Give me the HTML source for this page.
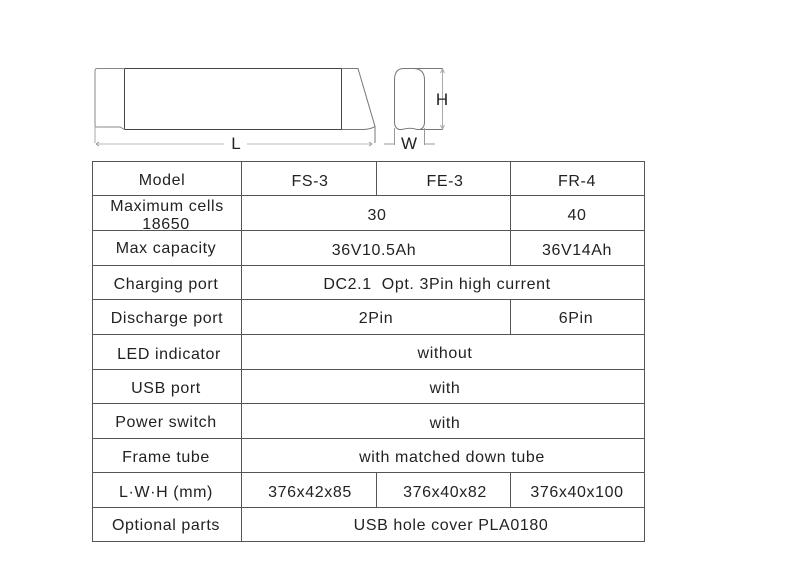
<!DOCTYPE html>
<html><head><meta charset="utf-8"><style>
html,body{margin:0;padding:0;background:#fff}
svg{display:block}
text{font-family:"Liberation Sans",sans-serif;font-size:16px;letter-spacing:.6px;fill:#222;text-anchor:middle}
</style></head><body>
<svg width="800" height="587" viewBox="0 0 800 587" xmlns="http://www.w3.org/2000/svg">
<g fill="none" stroke="#555" stroke-width="1">
<path d="M124.500 68.500H341.500M124.500 129.500H341.500M124.500 68.500V129.500M341.500 68.500V129.500" stroke="#444"/>
<path d="M124.500 68.500H97Q95 68.500 95 71V125.500Q95 127 97 127H120L124.500 129.500" stroke="#888"/>
<path d="M341.500 68.500H358L375 126.500V143M341.500 129.500H362Q370 129.500 375 126.500" stroke="#777"/>
<path d="M95 127V143" stroke="#aaa"/>
<path d="M96 144H224M247 144H372" stroke="#bbb"/>
<path d="M96 144l3 -2M96 144l3 2M372 144l-3 -2M372 144l-3 2" stroke="#999"/>
<path d="M403 68.500H414Q424.500 69 424.500 80V122Q424.500 128 420 129.500L417 129.500Q410 127 402 129.500L399 129.500Q394.500 128 394.500 122V80Q394.500 69 403 68.500Z" stroke="#777"/>
<path d="M414 68.500H442.500V129.500H420" stroke="#777"/>
<path d="M442.500 70V128M440.500 73l2 -4 2 4M440.500 125l2 4 2 -4" stroke="#aaa"/>
<path d="M394.500 128V145M424.500 128V145M384 144H394M425 144H435" stroke="#999"/>
</g>
<g fill="none" stroke="#555" stroke-width="1">
<rect x="92.500" y="161.500" width="552" height="380"/>
<path d="M241.500 161.500V541.500M376.500 161.500V195.500M510.500 161.500V265.500M510.500 299.500V334.500M376.500 472.500V507.500M510.500 472.500V507.500"/>
<path d="M92.500 195.500H644.500M92.500 230.500H644.500M92.500 265.500H644.500M92.500 299.500H644.500M92.500 334.500H644.500M92.500 369.500H644.500M92.500 403.500H644.500M92.500 438.500H644.500M92.500 472.500H644.500M92.500 507.500H644.500"/>
</g>
<text x="236" y="149" style="letter-spacing:0;font-size:17px">L</text>
<text x="409" y="149" style="letter-spacing:0;font-size:17px">W</text>
<text x="442" y="105" style="letter-spacing:0;font-size:17px">H</text>
<text x="162" y="185">Model</text>
<text x="310" y="186">FS-3</text>
<text x="445" y="186">FE-3</text>
<text x="577" y="186">FR-4</text>
<text x="167" y="211">Maximum cells</text>
<text x="166" y="229">18650</text>
<text x="377" y="220">30</text>
<text x="577" y="220">40</text>
<text x="166" y="253">Max capacity</text>
<text x="374" y="255">36V10.5Ah</text>
<text x="577" y="255">36V14Ah</text>
<text x="166" y="289">Charging port</text>
<text x="437" y="289" xml:space="preserve">DC2.1  Opt. 3Pin high current</text>
<text x="167" y="323">Discharge port</text>
<text x="376" y="323">2Pin</text>
<text x="576" y="323">6Pin</text>
<text x="169" y="359">LED indicator</text>
<text x="445" y="358">without</text>
<text x="166" y="393">USB port</text>
<text x="445" y="393">with</text>
<text x="166" y="427">Power switch</text>
<text x="445" y="428">with</text>
<text x="166" y="462">Frame tube</text>
<text x="452" y="462">with matched down tube</text>
<text x="166" y="497">L·W·H (mm)</text>
<text x="310" y="497">376x42x85</text>
<text x="445" y="497">376x40x82</text>
<text x="577" y="497">376x40x100</text>
<text x="166" y="530">Optional parts</text>
<text x="451" y="530">USB hole cover PLA0180</text>
</svg>
</body></html>
